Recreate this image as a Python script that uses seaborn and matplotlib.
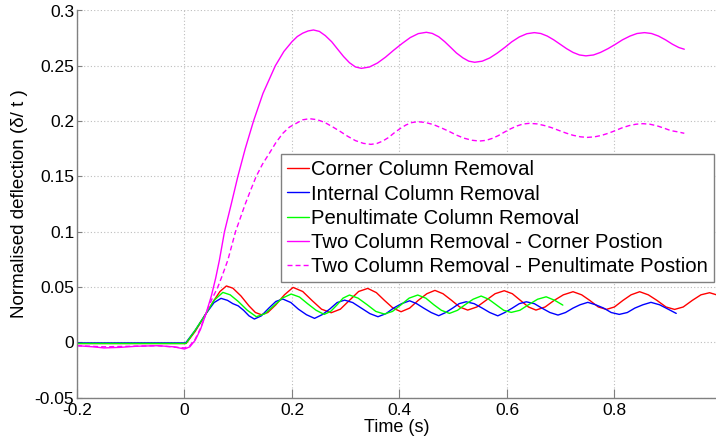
import matplotlib
matplotlib.use("Agg")
import matplotlib.pyplot as plt
import seaborn as sns

# ---------------- data ----------------
t_corner = [-0.2, -0.1, 0.0, 0.003, 0.02, 0.04, 0.055, 0.066, 0.078, 0.09, 0.105, 0.12, 0.132, 0.143,
            0.155, 0.17, 0.186, 0.202, 0.22, 0.237, 0.255, 0.273, 0.29, 0.307, 0.324, 0.341, 0.357, 0.372,
            0.388, 0.403, 0.419, 0.435, 0.451, 0.466, 0.481, 0.497, 0.512, 0.527, 0.544, 0.561, 0.578,
            0.595, 0.61, 0.625, 0.64, 0.654, 0.671, 0.688, 0.705, 0.723, 0.739, 0.754, 0.77, 0.785, 0.8,
            0.816, 0.831, 0.847, 0.863, 0.879, 0.896, 0.912, 0.928, 0.945, 0.961, 0.977, 0.99]
y_corner = [-0.001, -0.001, -0.001, -0.001, 0.010, 0.026, 0.038, 0.046, 0.051, 0.049, 0.042, 0.033, 0.027,
            0.025, 0.027, 0.034, 0.043, 0.0497, 0.046, 0.038, 0.030, 0.0268, 0.030, 0.038, 0.046, 0.0488,
            0.045, 0.038, 0.031, 0.0277, 0.031, 0.038, 0.044, 0.047, 0.044, 0.038, 0.032, 0.0292, 0.032,
            0.038, 0.044, 0.0467, 0.044, 0.038, 0.032, 0.0292, 0.032, 0.038, 0.043, 0.0458, 0.043, 0.038,
            0.032, 0.0298, 0.032, 0.038, 0.043, 0.0458, 0.043, 0.038, 0.032, 0.0298, 0.032, 0.038, 0.043,
            0.0449, 0.043]

t_internal = [-0.2, -0.1, 0.0, 0.003, 0.02, 0.04, 0.055, 0.068, 0.08, 0.09, 0.1, 0.11, 0.12, 0.13, 0.143,
              0.157, 0.17, 0.183, 0.198, 0.212, 0.227, 0.242, 0.256, 0.27, 0.284, 0.298, 0.313, 0.329,
              0.345, 0.36, 0.375, 0.389, 0.404, 0.419, 0.432, 0.445, 0.459, 0.473, 0.486, 0.499, 0.511,
              0.524, 0.539, 0.554, 0.568, 0.583, 0.596, 0.61, 0.623, 0.636, 0.651, 0.665, 0.68, 0.695,
              0.709, 0.723, 0.736, 0.7505, 0.765, 0.78, 0.794, 0.809, 0.824, 0.838, 0.853, 0.868, 0.884,
              0.9, 0.915]
y_internal = [-0.0005, -0.0005, -0.0005, 0.0, 0.011, 0.026, 0.036, 0.0398, 0.038, 0.035, 0.033, 0.029,
              0.024, 0.0211, 0.024, 0.031, 0.037, 0.0392, 0.036, 0.030, 0.025, 0.0217, 0.025, 0.030, 0.036,
              0.0382, 0.036, 0.031, 0.026, 0.0232, 0.026, 0.031, 0.035, 0.0376, 0.035, 0.031, 0.027, 0.0241,
              0.027, 0.031, 0.035, 0.0367, 0.035, 0.031, 0.027, 0.024, 0.027, 0.031, 0.035, 0.0367, 0.035,
              0.031, 0.027, 0.0247, 0.027, 0.031, 0.034, 0.0362, 0.034, 0.031, 0.027, 0.0253, 0.027, 0.031,
              0.034, 0.0362, 0.034, 0.030, 0.0262]

t_penult = [-0.2, -0.1, 0.0, 0.003, 0.02, 0.04, 0.055, 0.0714, 0.085, 0.1, 0.117, 0.1336, 0.15, 0.166,
            0.182, 0.1985, 0.214, 0.229, 0.245, 0.26, 0.272, 0.284, 0.295, 0.307, 0.323, 0.34, 0.356,
            0.372, 0.387, 0.403, 0.418, 0.434, 0.449, 0.464, 0.478, 0.493, 0.508, 0.522, 0.537, 0.552,
            0.566, 0.58, 0.594, 0.608, 0.624, 0.64, 0.657, 0.673, 0.689, 0.704]
y_penult = [-0.001, -0.001, -0.001, -0.0008, 0.011, 0.026, 0.038, 0.0452, 0.043, 0.037, 0.029, 0.0232,
            0.026, 0.033, 0.040, 0.0437, 0.041, 0.035, 0.029, 0.0253, 0.028, 0.034, 0.040, 0.0428, 0.040,
            0.034, 0.028, 0.0256, 0.028, 0.034, 0.040, 0.0428, 0.040, 0.034, 0.029, 0.0262, 0.029, 0.034,
            0.039, 0.0419, 0.039, 0.034, 0.029, 0.0271, 0.029, 0.034, 0.039, 0.0412, 0.038, 0.0337]

t_two_corner = [-0.2, -0.17, -0.15, -0.12, -0.09, -0.05, -0.02, 0.0, 0.01, 0.02, 0.03, 0.04, 0.05, 0.058,
                0.065, 0.0744, 0.087, 0.0993, 0.113, 0.1284, 0.146, 0.169, 0.185, 0.2, 0.21, 0.22, 0.23,
                0.24, 0.251, 0.262, 0.274, 0.285, 0.296, 0.307, 0.318, 0.329, 0.344, 0.359, 0.374, 0.389,
                0.405, 0.42, 0.435, 0.45, 0.461, 0.473, 0.484, 0.495, 0.506, 0.518, 0.529, 0.54, 0.554,
                0.568, 0.582, 0.596, 0.609, 0.623, 0.637, 0.651, 0.663, 0.675, 0.687, 0.699, 0.711, 0.723,
                0.735, 0.747, 0.761, 0.774, 0.788, 0.802, 0.815, 0.829, 0.842, 0.856, 0.869, 0.882, 0.895,
                0.908, 0.92, 0.93]
y_two_corner = [-0.003, -0.004, -0.005, -0.0045, -0.0035, -0.003, -0.004, -0.006, -0.004, 0.002, 0.012,
                0.026, 0.042, 0.058, 0.0744, 0.1, 0.125, 0.15, 0.175, 0.2, 0.225, 0.25, 0.263, 0.2718,
                0.2765, 0.2795, 0.2815, 0.2824, 0.2811, 0.2773, 0.2717, 0.265, 0.2584, 0.2528, 0.249,
                0.2477, 0.2489, 0.2525, 0.2578, 0.264, 0.2702, 0.2755, 0.2791, 0.2803, 0.2793, 0.2763,
                0.2719, 0.2668, 0.2616, 0.2572, 0.2542, 0.2532, 0.2542, 0.2571, 0.2615, 0.2666, 0.2717,
                0.2761, 0.279, 0.280, 0.2792, 0.2769, 0.2735, 0.2695, 0.2655, 0.2621, 0.2598, 0.259,
                0.2598, 0.2621, 0.2655, 0.2695, 0.2735, 0.2769, 0.2792, 0.280, 0.2792, 0.2769, 0.2735,
                0.2695, 0.2665, 0.265]

t_two_penult = [-0.2, -0.15, -0.1, -0.05, 0.0, 0.01, 0.02, 0.03, 0.04, 0.05, 0.062, 0.07, 0.0807, 0.0949,
                0.113, 0.123, 0.1334, 0.145, 0.158, 0.17, 0.183, 0.195, 0.208, 0.22, 0.2326, 0.247, 0.261,
                0.275, 0.29, 0.304, 0.318, 0.333, 0.347, 0.358, 0.369, 0.38, 0.39, 0.401, 0.412, 0.423,
                0.434, 0.448, 0.463, 0.477, 0.492, 0.506, 0.52, 0.535, 0.549, 0.561, 0.572, 0.584, 0.595,
                0.607, 0.619, 0.63, 0.642, 0.656, 0.669, 0.683, 0.696, 0.71, 0.723, 0.737, 0.75, 0.763,
                0.776, 0.789, 0.802, 0.814, 0.827, 0.84, 0.853, 0.866, 0.879, 0.892, 0.905, 0.918, 0.93]
y_two_penult = [-0.003, -0.004, -0.0035, -0.003, -0.005, -0.003, 0.003, 0.013, 0.026, 0.038, 0.05, 0.06,
                0.0744, 0.1, 0.125, 0.1375, 0.15, 0.161, 0.171, 0.1805, 0.189, 0.1945, 0.198, 0.2012,
                0.2022, 0.2013, 0.1988, 0.195, 0.1906, 0.1862, 0.1824, 0.1799, 0.179, 0.1798, 0.182,
                0.1853, 0.1893, 0.1932, 0.1965, 0.1987, 0.1995, 0.1988, 0.1969, 0.1941, 0.1908, 0.1874,
                0.1846, 0.1827, 0.182, 0.1826, 0.1843, 0.1869, 0.19, 0.1931, 0.1957, 0.1974, 0.198,
                0.1975, 0.1961, 0.1941, 0.1917, 0.1892, 0.1872, 0.1858, 0.1853, 0.1858, 0.1871, 0.1891,
                0.1915, 0.1939, 0.1959, 0.1972, 0.1977, 0.1972, 0.1958, 0.1937, 0.1914, 0.1903, 0.189]

labels = ["Corner Column Removal", "Internal Column Removal", "Penultimate Column Removal",
          "Two Column Removal - Corner Postion", "Two Column Removal - Penultimate Postion"]

x_ticks = [-0.2, 0.0, 0.2, 0.4, 0.6, 0.8]
x_tick_labels = ["-0.2", "0", "0.2", "0.4", "0.6", "0.8"]
y_ticks = [-0.05, 0.0, 0.05, 0.1, 0.15, 0.2, 0.25, 0.3]
y_tick_labels = ["-0.05", "0", "0.05", "0.1", "0.15", "0.2", "0.25", "0.3"]

# ---------------- styling ----------------
sns.set_theme(style="white")
plt.rcParams['font.family'] = ['Liberation Sans', 'DejaVu Sans']
plt.rcParams['axes.unicode_minus'] = False

W, H = 716, 444
fig = plt.figure(figsize=(W / 100, H / 100), dpi=100)
ax = fig.add_axes([77 / W, 1 - 397.7 / H, 639 / W, (397.7 - 10.5) / H])

series = [
    (t_corner, y_corner, labels[0], "#ff0000", "-"),
    (t_internal, y_internal, labels[1], "#0000ff", "-"),
    (t_penult, y_penult, labels[2], "#00ff00", "-"),
    (t_two_corner, y_two_corner, labels[3], "#ff00ff", "-"),
    (t_two_penult, y_two_penult, labels[4], "#ff00ff", (0, (3.6, 2.2))),
]
for t, y, lab, col, ls in series:
    sns.lineplot(x=t, y=y, ax=ax, color=col, linewidth=1.0, linestyle=ls, label=lab,
                 estimator=None, sort=False)

ax.set_xlim(-0.2, 0.989)
ax.set_ylim(-0.05, 0.3)
ax.set_xticks(x_ticks)
ax.set_xticklabels(x_tick_labels)
ax.set_yticks(y_ticks)
ax.set_yticklabels(y_tick_labels)

ax.set_axisbelow(True)
ax.grid(True, color="#bdbdbd", linestyle=(0, (1, 2)), linewidth=0.8)

for s in ["top", "right"]:
    ax.spines[s].set_visible(False)
for s in ["left", "bottom"]:
    ax.spines[s].set_color("#808080")
    ax.spines[s].set_linewidth(1.0)

ax.tick_params(axis="x", direction="in", length=6.5, width=0.8, color="#808080",
               labelsize=12.5, labelcolor="black", pad=3.5, bottom=True)
ax.tick_params(axis="y", direction="in", length=3.6, width=0.8, color="#808080",
               labelsize=12.5, labelcolor="black", pad=2, left=True)

ax.set_xlabel("Time (s)", fontsize=13, labelpad=1, color="black")
ax.set_ylabel("Normalised deflection (δ/ t )", fontsize=13.5, labelpad=5, color="black")

leg = ax.legend(loc="upper right", bbox_to_anchor=(0.997, 0.629), borderaxespad=0,
                frameon=True, fancybox=False, edgecolor="#808080", framealpha=1,
                fontsize=14.6, handlelength=1.05, handletextpad=0.12, labelspacing=0.26,
                borderpad=0.3)
leg.get_frame().set_linewidth(1.0)
for txt in leg.get_texts():
    txt.set_color("black")

fig.savefig("out.png", dpi=100, facecolor="white")
